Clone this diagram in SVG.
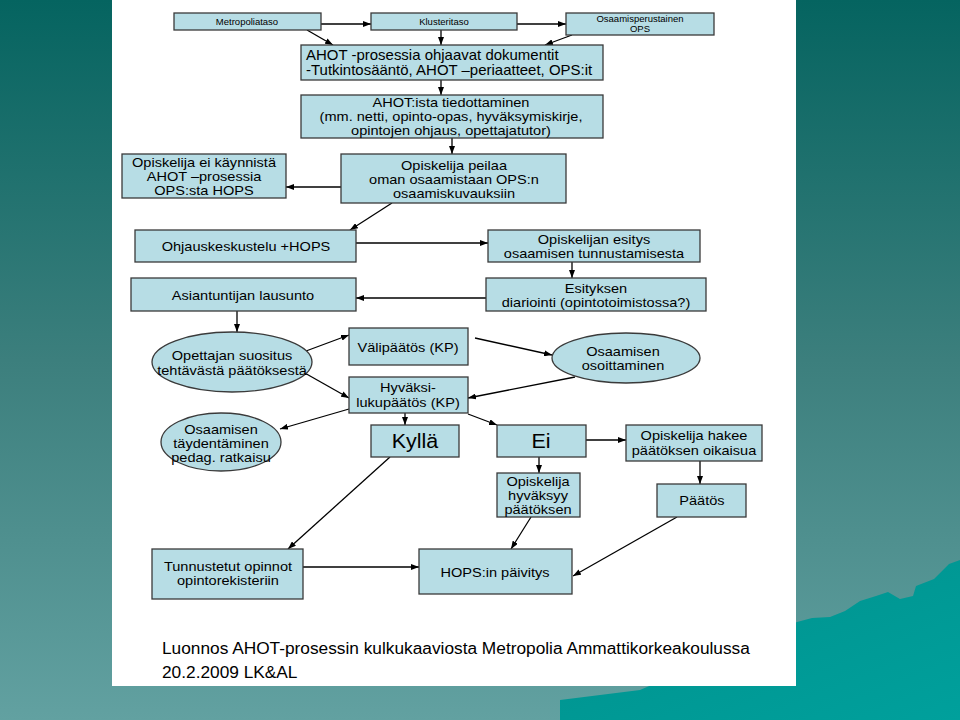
<svg xmlns="http://www.w3.org/2000/svg" width="960" height="720" viewBox="0 0 960 720">
<defs>
<linearGradient id="bg" x1="0" y1="0" x2="0" y2="1">
<stop offset="0" stop-color="#056460"/>
<stop offset="0.5" stop-color="#3c7f7d"/>
<stop offset="1" stop-color="#62a1a1"/>
</linearGradient>
<linearGradient id="mt" x1="0" y1="0" x2="1" y2="1">
<stop offset="0" stop-color="#00908c"/>
<stop offset="1" stop-color="#00a09c"/>
</linearGradient>
<marker id="ah" markerWidth="8" markerHeight="6" refX="8" refY="3" orient="auto" markerUnits="userSpaceOnUse">
<path d="M0,0 L8,3 L0,6 z" fill="#000"/>
</marker>
<style>
.b{fill:#b7dde5;stroke:#3a3a3a;stroke-width:1.3}
.t{font-family:"Liberation Sans",Arial,sans-serif;fill:#000;text-anchor:middle}
.s{font-size:9.5px}
.m{font-size:13px}
.l{font-size:14px}
.k{font-size:19.5px}
.c{font-family:"Liberation Sans",Arial,sans-serif;fill:#000;font-size:17.3px}
.e{stroke:#000;stroke-width:1.3;fill:none;marker-end:url(#ah)}
</style>
</defs>
<rect x="0" y="0" width="960" height="720" fill="url(#bg)"/>
<path d="M560,720 L560,700 L640,690 L797,622 L812,618 L830,617 L845,611 L860,601 L876,596 L888,592 L900,599 L913,596 L916,586 L934,579 L949,564 L960,560 L960,720 Z" fill="url(#mt)"/>
<rect x="112" y="0" width="684" height="686" fill="#ffffff"/>

<g id="connectors">
<line class="e" x1="321" y1="24" x2="371" y2="24"/>
<line class="e" x1="517" y1="24" x2="566" y2="24"/>
<line class="e" x1="307" y1="30" x2="333" y2="45"/>
<line class="e" x1="441" y1="30" x2="441" y2="45"/>
<line class="e" x1="572" y1="35" x2="545" y2="45"/>
<line class="e" x1="441" y1="80" x2="441" y2="95"/>
<line class="e" x1="452" y1="138" x2="452" y2="154"/>
<line class="e" x1="341" y1="187" x2="286" y2="187"/>
<line class="e" x1="392" y1="203" x2="350" y2="230"/>
<line class="e" x1="356" y1="243" x2="488" y2="243"/>
<line class="e" x1="572" y1="262" x2="572" y2="278"/>
<line class="e" x1="486" y1="298" x2="356" y2="298"/>
<line class="e" x1="237" y1="311" x2="237" y2="332"/>
<line class="e" x1="306" y1="351" x2="349" y2="335"/>
<line class="e" x1="475" y1="338" x2="552" y2="355"/>
<line class="e" x1="575" y1="377" x2="468" y2="398"/>
<line class="e" x1="303" y1="372" x2="349" y2="398"/>
<line class="e" x1="349" y1="409" x2="280" y2="429"/>
<line class="e" x1="405" y1="413" x2="405" y2="425"/>
<line class="e" x1="468" y1="414" x2="497" y2="425"/>
<line class="e" x1="586" y1="440" x2="626" y2="440"/>
<line class="e" x1="539" y1="457" x2="539" y2="473"/>
<line class="e" x1="700" y1="461" x2="700" y2="484"/>
<line class="e" x1="390" y1="457" x2="288" y2="549"/>
<line class="e" x1="531" y1="517" x2="511" y2="549"/>
<line class="e" x1="677" y1="517" x2="573" y2="576"/>
<line class="e" x1="303" y1="567" x2="419" y2="567"/>
</g>

<g id="metropoliataso"><rect class="b" x="174" y="13" width="147" height="17"/><text class="t s" x="247" y="25">Metropoliataso</text></g>
<g id="klusteritaso"><rect class="b" x="371" y="13" width="146" height="17"/><text class="t s" x="444" y="25">Klusteritaso</text></g>
<g id="osaamisperustainen"><rect class="b" x="566" y="13" width="148" height="22"/><text class="t s" x="640" y="22">Osaamisperustainen<tspan x="640" y="32">OPS</tspan></text></g>

<g id="dokumentit"><rect class="b" x="301" y="45" width="302" height="35"/><text class="t l" style="text-anchor:start" transform="matrix(1.07,0,0,1,-21.42,0)" x="306" y="60">AHOT -prosessia ohjaavat dokumentit<tspan x="306" y="75">-Tutkintosääntö, AHOT –periaatteet, OPS:it</tspan></text></g>

<g id="tiedottaminen"><rect class="b" x="301" y="95" width="302" height="43"/><text class="t m" transform="matrix(1.12,0,0,1,-54.12,0)" x="451" y="107">AHOT:ista tiedottaminen<tspan x="451" y="121">(mm. netti, opinto-opas, hyväksymiskirje,</tspan><tspan x="451" y="135">opintojen ohjaus, opettajatutor)</tspan></text></g>

<g id="ei-kaynnista"><rect class="b" x="122" y="154" width="164" height="44"/><text class="t m" transform="matrix(1.12,0,0,1,-24.48,0)" x="204" y="167">Opiskelija ei käynnistä<tspan x="204" y="181">AHOT –prosessia</tspan><tspan x="204" y="195">OPS:sta HOPS</tspan></text></g>

<g id="peilaa"><rect class="b" x="341" y="154" width="225" height="49"/><text class="t m" transform="matrix(1.12,0,0,1,-54.48,0)" x="454" y="170">Opiskelija peilaa<tspan x="454" y="184">oman osaamistaan OPS:n</tspan><tspan x="454" y="198">osaamiskuvauksiin</tspan></text></g>

<g id="ohjauskeskustelu"><rect class="b" x="135" y="230" width="221" height="32"/><text class="t m" transform="matrix(1.12,0,0,1,-29.52,0)" x="246" y="251">Ohjauskeskustelu +HOPS</text></g>

<g id="esitys"><rect class="b" x="488" y="230" width="212" height="32"/><text class="t m" transform="matrix(1.12,0,0,1,-71.28,0)" x="594" y="244">Opiskelijan esitys<tspan x="594" y="258">osaamisen tunnustamisesta</tspan></text></g>

<g id="lausunto"><rect class="b" x="131" y="278" width="225" height="33"/><text class="t m" transform="matrix(1.12,0,0,1,-29.16,0)" x="243" y="300">Asiantuntijan lausunto</text></g>

<g id="diariointi"><rect class="b" x="486" y="278" width="220" height="33"/><text class="t m" transform="matrix(1.12,0,0,1,-71.52,0)" x="596" y="293">Esityksen<tspan x="596" y="307">diariointi (opintotoimistossa?)</tspan></text></g>

<g id="suositus"><ellipse class="b" cx="232" cy="362" rx="80" ry="30"/><text class="t m" transform="matrix(1.12,0,0,1,-27.84,0)" x="232" y="360">Opettajan suositus<tspan x="232" y="375">tehtävästä päätöksestä</tspan></text></g>

<g id="valipaatos"><rect class="b" x="349" y="328" width="119" height="37"/><text class="t m" transform="matrix(1.12,0,0,1,-48.96,0)" x="408" y="352">Välipäätös (KP)</text></g>

<g id="osoittaminen"><ellipse class="b" cx="626" cy="358" rx="74" ry="25"/><text class="t m" transform="matrix(1.12,0,0,1,-74.76,0)" x="623" y="356">Osaamisen<tspan x="623" y="370">osoittaminen</tspan></text></g>

<g id="hyvaksilukupaatos"><rect class="b" x="349" y="377" width="119" height="36"/><text class="t m" transform="matrix(1.12,0,0,1,-48.96,0)" x="408" y="392">Hyväksi-<tspan x="408" y="407">lukupäätös (KP)</tspan></text></g>

<g id="taydentaminen"><ellipse class="b" cx="221" cy="442" rx="60" ry="29"/><text class="t m" transform="matrix(1.12,0,0,1,-26.52,0)" x="221" y="434">Osaamisen<tspan x="221" y="448">täydentäminen</tspan><tspan x="221" y="462">pedag. ratkaisu</tspan></text></g>

<g id="kylla"><rect class="b" x="371" y="425" width="88" height="32"/><text class="t k" transform="matrix(1.1,0,0,1,-41.5,0)" x="415" y="448">Kyllä</text></g>

<g id="ei"><rect class="b" x="497" y="425" width="89" height="32"/><text class="t k" transform="matrix(1.1,0,0,1,-54.1,0)" x="541" y="448">Ei</text></g>

<g id="oikaisua"><rect class="b" x="626" y="425" width="136" height="36"/><text class="t m" transform="matrix(1.12,0,0,1,-83.28,0)" x="694" y="440">Opiskelija hakee<tspan x="694" y="455">päätöksen oikaisua</tspan></text></g>

<g id="hyvaksyy"><rect class="b" x="497" y="473" width="83" height="44"/><text class="t m" transform="matrix(1.12,0,0,1,-64.56,0)" x="538" y="486">Opiskelija<tspan x="538" y="500">hyväksyy</tspan><tspan x="538" y="514">päätöksen</tspan></text></g>

<g id="paatos"><rect class="b" x="657" y="484" width="89" height="33"/><text class="t m" transform="matrix(1.12,0,0,1,-84.24,0)" x="702" y="505">Päätös</text></g>

<g id="tunnustetut"><rect class="b" x="152" y="549" width="151" height="50"/><text class="t m" transform="matrix(1.12,0,0,1,-27.36,0)" x="228" y="571">Tunnustetut opinnot<tspan x="228" y="585">opintorekisteriin</tspan></text></g>

<g id="hops-paivitys"><rect class="b" x="419" y="549" width="153" height="45"/><text class="t m" transform="matrix(1.12,0,0,1,-59.4,0)" x="495" y="577">HOPS:in päivitys</text></g>

<g id="caption">
<text class="c" x="162" y="654">Luonnos AHOT-prosessin kulkukaaviosta Metropolia Ammattikorkeakoulussa</text>
<text class="c" x="162" y="678">20.2.2009 LK&amp;AL</text>
</g>
</svg>
